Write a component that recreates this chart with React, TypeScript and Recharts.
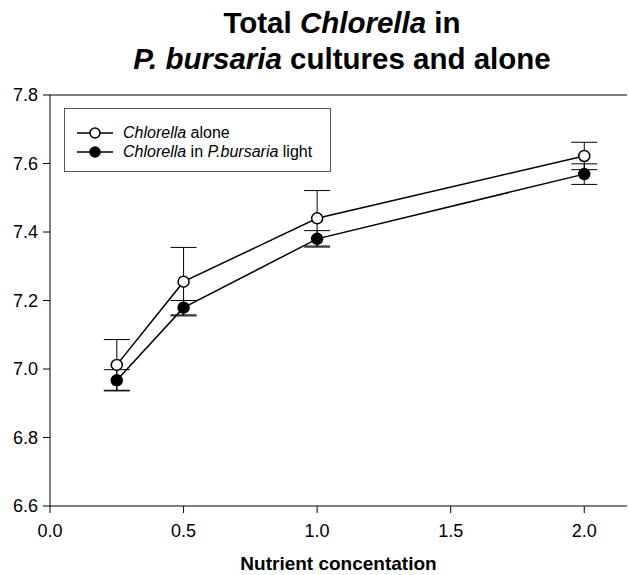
import React from "react";
import { LineChart, Line, XAxis, YAxis, ErrorBar, ReferenceLine } from "recharts";

const concentrations = [0.25, 0.5, 1.0, 2.0];
const aloneMeans = [7.012, 7.255, 7.44, 7.622];
const aloneErrors = [0.074, 0.1, 0.081, 0.04];
const inBursariaMeans = [6.967, 7.179, 7.38, 7.569];
const inBursariaErrors = [0.031, 0.021, 0.024, 0.03];
const xTicks = [0, 0.5, 1.0, 1.5, 2.0];
const yTicks = [6.6, 6.8, 7.0, 7.2, 7.4, 7.6, 7.8];

const data = concentrations.map((x, i) => ({
  x,
  alone: aloneMeans[i],
  aloneErr: aloneErrors[i],
  pb: inBursariaMeans[i],
  pbErr: inBursariaErrors[i],
}));

const FONT = "'Liberation Sans', Arial, Helvetica, sans-serif";

const Sym = ({ filled }: { filled: boolean }) => (
  <svg width={36} height={12} style={{ display: "block" }}>
    <line x1={0} y1={6} x2={36} y2={6} stroke="#000" strokeWidth={1.3} />
    <circle cx={18} cy={6} r={5} fill={filled ? "#000" : "#fff"} stroke="#000" strokeWidth={1.5} />
  </svg>
);

const LegendBox = () => (
  <div
    style={{
      position: "absolute",
      left: 64,
      top: 108,
      width: 265,
      height: 62,
      border: "1px solid #555",
      boxSizing: "content-box",
      fontFamily: FONT,
      fontSize: 16,
      color: "#000",
      zIndex: 2,
      background: "#fff",
    }}
  >
    <div style={{ position: "absolute", left: 12, top: 16, display: "flex", alignItems: "center", height: 16 }}>
      <Sym filled={false} />
      <span style={{ marginLeft: 10 }}>
        <i>Chlorella</i> alone
      </span>
    </div>
    <div style={{ position: "absolute", left: 12, top: 35, display: "flex", alignItems: "center", height: 16 }}>
      <Sym filled={true} />
      <span style={{ marginLeft: 10 }}>
        <i>Chlorella</i> in <i>P.bursaria</i> light
      </span>
    </div>
  </div>
);

export default function App() {
  return (
    <div style={{ position: "absolute", left: 0, top: 0, width: 629, height: 575, background: "#fff" }}>
      <div
        style={{
          position: "absolute",
          left: 0,
          top: 5,
          width: 684,
          textAlign: "center",
          fontFamily: FONT,
          fontWeight: "bold",
          fontSize: 29.5,
          lineHeight: "36px",
          color: "#000",
          zIndex: 2,
        }}
      >
        <div>
          Total <i>Chlorella</i> in
        </div>
        <div>
          <i>P. bursaria</i> cultures and alone
        </div>
      </div>
      <LegendBox />
      <LineChart width={629} height={575} data={data} margin={{ top: 95, right: 2, bottom: 0, left: 0 }}>
        <XAxis
          type="number"
          dataKey="x"
          domain={[0, 2.16]}
          ticks={xTicks}
          tickFormatter={(v: number) => v.toFixed(1)}
          allowDataOverflow
          height={69}
          tickSize={7}
          tickMargin={11}
          stroke="#000"
          tick={{ fill: "#000", fontSize: 18, fontFamily: FONT }}
          label={{
            value: "Nutrient concentation",
            position: "insideBottom",
            offset: 5,
            style: { fontFamily: FONT, fontWeight: "bold", fontSize: 19, fill: "#000" },
          }}
        />
        <YAxis
          type="number"
          domain={[6.6, 7.8]}
          ticks={yTicks}
          tickFormatter={(v: number) => v.toFixed(1)}
          width={50}
          tickSize={7}
          tickMargin={5}
          stroke="#000"
          tick={{ fill: "#000", fontSize: 18, fontFamily: FONT }}
        />
        <ReferenceLine y={7.8} stroke="#000" strokeWidth={1} ifOverflow="visible" />
        <Line
          dataKey="alone"
          stroke="#000"
          strokeWidth={1.5}
          isAnimationActive={false}
          dot={{ r: 5.5, fill: "#fff", stroke: "#000", strokeWidth: 1.5 }}
          activeDot={false}
        >
          <ErrorBar dataKey="aloneErr" width={13} stroke="#000" strokeWidth={1} direction="y" />
        </Line>
        <Line
          dataKey="pb"
          stroke="#000"
          strokeWidth={1.5}
          isAnimationActive={false}
          dot={{ r: 5.5, fill: "#000", stroke: "#000", strokeWidth: 1.5 }}
          activeDot={false}
        >
          <ErrorBar dataKey="pbErr" width={13} stroke="#000" strokeWidth={1} direction="y" />
        </Line>
      </LineChart>
    </div>
  );
}
